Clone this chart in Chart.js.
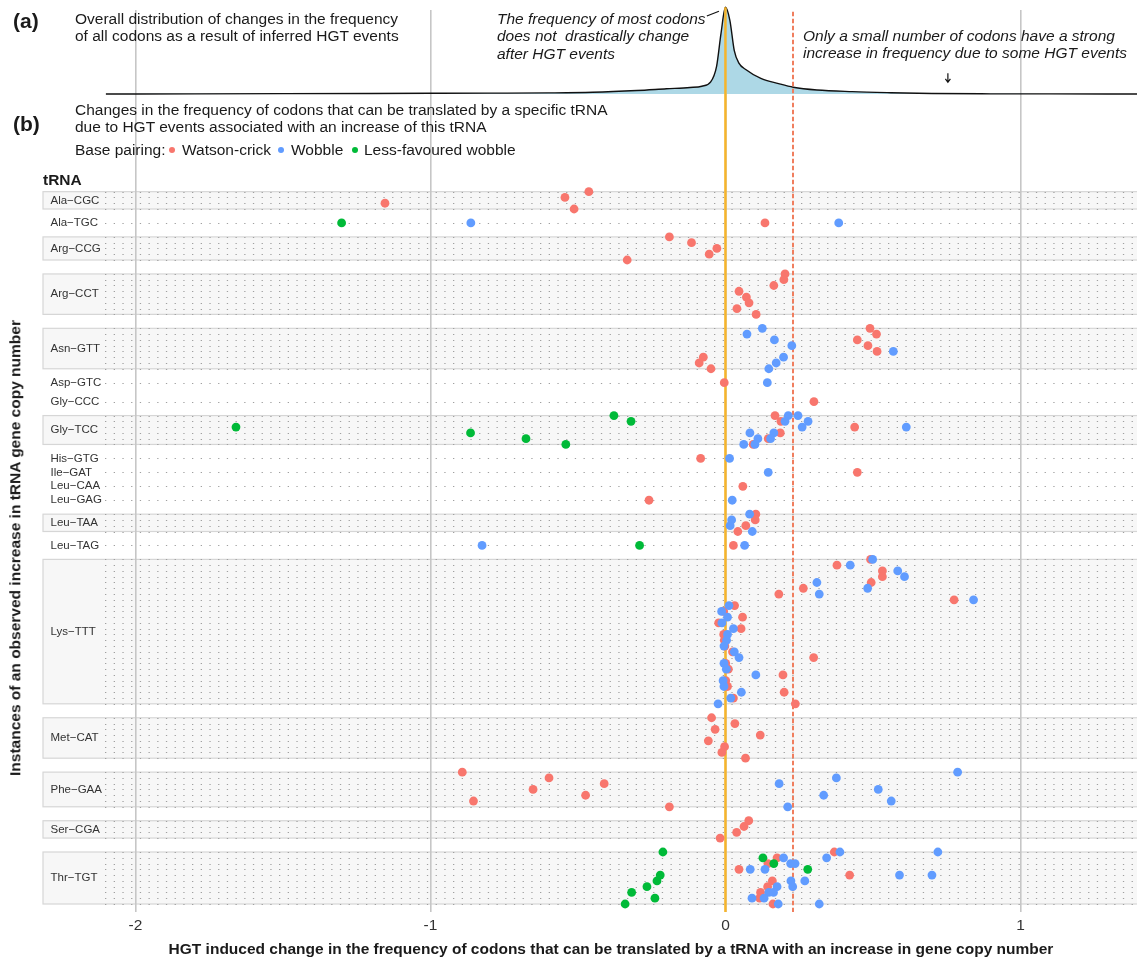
<!DOCTYPE html>
<html lang="en">
<head>
<meta charset="UTF-8">
<title>Codon frequency changes after HGT</title>
<script src="https://cdn.jsdelivr.net/npm/chart.js@4.4.1/dist/chart.umd.min.js"></script>
<style>
  body { margin: 0; background: #fff; font-family: "Liberation Sans", Arial, sans-serif; color: #1a1a1a; }
  #wrap { position: relative; width: 1137px; height: 961px; overflow: hidden; }
  #chart { position: absolute; left: 0; top: 0; }
  .txt { position: absolute; font-size: 15.5px; line-height: 17.4px; white-space: nowrap; }
  .it { font-style: italic; }
  .tag { position: absolute; font-weight: bold; font-size: 21px; line-height: 24px; }
  .bold { font-weight: bold; }
  .dot { position: absolute; width: 6px; height: 6px; border-radius: 50%; }
</style>
</head>
<body>
<div id="wrap">
  <canvas id="chart" width="1137" height="961"></canvas>

  <div class="tag" style="left:13px; top:9px">(a)</div>
  <div class="txt" style="left:75px; top:10px">Overall distribution of changes in the frequency<br>of all codons as a result of inferred HGT events</div>
  <div class="txt it" style="left:497px; top:10px">The frequency of most codons<br>does not&nbsp; drastically change<br>after HGT events</div>
  <div class="txt it" style="left:803px; top:27px">Only a small number of codons have a strong<br>increase in frequency due to some HGT events</div>

  <div class="tag" style="left:13px; top:112px">(b)</div>
  <div class="txt" style="left:75px; top:101px">Changes in the frequency of codons that can be translated by a specific tRNA<br>due to HGT events associated with an increase of this tRNA</div>
  <div class="txt" style="left:75px; top:141px">Base pairing:</div>
  <div class="dot" style="left:169px; top:147px; background:#F8766D"></div>
  <div class="txt" style="left:182px; top:141px">Watson-crick</div>
  <div class="dot" style="left:278px; top:147px; background:#619CFF"></div>
  <div class="txt" style="left:291px; top:141px">Wobble</div>
  <div class="dot" style="left:352px; top:147px; background:#00BA38"></div>
  <div class="txt" style="left:364px; top:141px">Less-favoured wobble</div>

  <div class="txt bold" style="left:43px; top:171px">tRNA</div>
  <div class="txt bold" style="left:14.5px; top:548px; transform: translate(-50%, -50%) rotate(-90deg);">Instances of an observed increase in tRNA gene copy number</div>
  <div class="txt bold" style="left:611px; top:950px; transform: translate(-50%, -55%);">HGT induced change in the frequency of codons that can be translated by a tRNA with an increase in gene copy number</div>
</div>

<script>
// tRNA groups (top to bottom) and how many instances (rows) each one has
const trnaNames = ['Ala-CGC', 'Ala-TGC', 'Arg-CCG', 'Arg-CCT', 'Asn-GTT', 'Asp-GTC', 'Gly-CCC', 'Gly-TCC',
                   'His-GTG', 'Ile-GAT', 'Leu-CAA', 'Leu-GAG', 'Leu-TAA', 'Leu-TAG', 'Lys-TTT', 'Met-CAT',
                   'Phe-GAA', 'Ser-CGA', 'Thr-TGT'];
const trnaInstances = [4, 1, 5, 8, 8, 1, 1, 6, 1, 1, 1, 1, 4, 1, 26, 8, 7, 4, 10];

// [tRNA, instance row, change in codon frequency]
const watsonCrick = [
  ['Ala-CGC', 0, -0.463], ['Ala-CGC', 1, -0.544], ['Ala-CGC', 2, -1.154], ['Ala-CGC', 3, -0.513],
  ['Ala-TGC', 0, 0.134],
  ['Arg-CCG', 0, -0.19], ['Arg-CCG', 1, -0.115], ['Arg-CCG', 2, -0.029], ['Arg-CCG', 3, -0.055], ['Arg-CCG', 4, -0.333],
  ['Arg-CCT', 0, 0.202], ['Arg-CCT', 1, 0.198], ['Arg-CCT', 2, 0.164], ['Arg-CCT', 3, 0.046],
  ['Arg-CCT', 4, 0.071], ['Arg-CCT', 5, 0.08], ['Arg-CCT', 6, 0.039], ['Arg-CCT', 7, 0.104],
  ['Asn-GTT', 0, 0.49], ['Asn-GTT', 1, 0.512], ['Asn-GTT', 2, 0.447], ['Asn-GTT', 3, 0.483],
  ['Asn-GTT', 4, 0.514], ['Asn-GTT', 5, -0.075], ['Asn-GTT', 6, -0.089], ['Asn-GTT', 7, -0.049],
  ['Asp-GTC', 0, -0.004],
  ['Gly-CCC', 0, 0.3],
  ['Gly-TCC', 0, 0.168], ['Gly-TCC', 1, 0.188], ['Gly-TCC', 2, 0.438], ['Gly-TCC', 3, 0.186], ['Gly-TCC', 4, 0.145], ['Gly-TCC', 5, 0.094],
  ['His-GTG', 0, -0.084],
  ['Ile-GAT', 0, 0.447],
  ['Leu-CAA', 0, 0.059],
  ['Leu-GAG', 0, -0.259],
  ['Leu-TAA', 0, 0.103], ['Leu-TAA', 1, 0.101], ['Leu-TAA', 2, 0.069], ['Leu-TAA', 3, 0.042],
  ['Leu-TAG', 0, 0.027],
  ['Lys-TTT', 0, 0.492], ['Lys-TTT', 1, 0.378], ['Lys-TTT', 2, 0.532], ['Lys-TTT', 3, 0.532], ['Lys-TTT', 4, 0.494],
  ['Lys-TTT', 5, 0.264], ['Lys-TTT', 6, 0.181], ['Lys-TTT', 7, 0.775], ['Lys-TTT', 8, 0.031], ['Lys-TTT', 9, -0.006],
  ['Lys-TTT', 10, 0.058], ['Lys-TTT', 11, -0.023], ['Lys-TTT', 12, 0.053], ['Lys-TTT', 13, -0.006], ['Lys-TTT', 14, -0.004],
  ['Lys-TTT', 15, -0.002], ['Lys-TTT', 16, 0.024], ['Lys-TTT', 17, 0.299], ['Lys-TTT', 18, 0.001], ['Lys-TTT', 19, 0.01],
  ['Lys-TTT', 20, 0.195], ['Lys-TTT', 21, 0.001], ['Lys-TTT', 22, 0.007], ['Lys-TTT', 23, 0.199], ['Lys-TTT', 24, 0.027],
  ['Lys-TTT', 25, 0.237],
  ['Met-CAT', 0, -0.047], ['Met-CAT', 1, 0.032], ['Met-CAT', 2, -0.035], ['Met-CAT', 3, 0.118],
  ['Met-CAT', 4, -0.058], ['Met-CAT', 5, -0.003], ['Met-CAT', 6, -0.012], ['Met-CAT', 7, 0.068],
  ['Phe-GAA', 0, -0.892], ['Phe-GAA', 1, -0.598], ['Phe-GAA', 2, -0.411], ['Phe-GAA', 3, -0.652],
  ['Phe-GAA', 4, -0.474], ['Phe-GAA', 5, -0.854], ['Phe-GAA', 6, -0.19],
  ['Ser-CGA', 0, 0.079], ['Ser-CGA', 1, 0.063], ['Ser-CGA', 2, 0.038], ['Ser-CGA', 3, -0.018],
  ['Thr-TGT', 0, 0.369], ['Thr-TGT', 1, 0.175], ['Thr-TGT', 2, 0.144], ['Thr-TGT', 3, 0.046], ['Thr-TGT', 4, 0.421],
  ['Thr-TGT', 5, 0.159], ['Thr-TGT', 6, 0.143], ['Thr-TGT', 7, 0.119], ['Thr-TGT', 8, 0.116], ['Thr-TGT', 9, 0.161]
];

const wobble = [
  ['Ala-TGC', 0, -0.863], ['Ala-TGC', 0, 0.384],
  ['Asn-GTT', 0, 0.125], ['Asn-GTT', 1, 0.073], ['Asn-GTT', 2, 0.166], ['Asn-GTT', 3, 0.225],
  ['Asn-GTT', 4, 0.569], ['Asn-GTT', 5, 0.197], ['Asn-GTT', 6, 0.172], ['Asn-GTT', 7, 0.147],
  ['Asp-GTC', 0, 0.142],
  ['Gly-TCC', 0, 0.213], ['Gly-TCC', 0, 0.246], ['Gly-TCC', 1, 0.202], ['Gly-TCC', 1, 0.28],
  ['Gly-TCC', 2, 0.613], ['Gly-TCC', 2, 0.26], ['Gly-TCC', 3, 0.083], ['Gly-TCC', 3, 0.164],
  ['Gly-TCC', 4, 0.11], ['Gly-TCC', 4, 0.153], ['Gly-TCC', 5, 0.062], ['Gly-TCC', 5, 0.1],
  ['His-GTG', 0, 0.014],
  ['Ile-GAT', 0, 0.145],
  ['Leu-GAG', 0, 0.023],
  ['Leu-TAA', 0, 0.082], ['Leu-TAA', 1, 0.021], ['Leu-TAA', 2, 0.016], ['Leu-TAA', 3, 0.091],
  ['Leu-TAG', 0, -0.825], ['Leu-TAG', 0, 0.065],
  ['Lys-TTT', 0, 0.499], ['Lys-TTT', 1, 0.423], ['Lys-TTT', 2, 0.584], ['Lys-TTT', 3, 0.607], ['Lys-TTT', 4, 0.31],
  ['Lys-TTT', 5, 0.482], ['Lys-TTT', 6, 0.318], ['Lys-TTT', 7, 0.841], ['Lys-TTT', 8, 0.012], ['Lys-TTT', 9, -0.013],
  ['Lys-TTT', 10, 0.007], ['Lys-TTT', 11, -0.012], ['Lys-TTT', 12, 0.027], ['Lys-TTT', 13, 0.007], ['Lys-TTT', 14, 0.004],
  ['Lys-TTT', 15, -0.005], ['Lys-TTT', 16, 0.03], ['Lys-TTT', 17, 0.046], ['Lys-TTT', 18, -0.005], ['Lys-TTT', 19, 0.003],
  ['Lys-TTT', 20, 0.103], ['Lys-TTT', 21, -0.008], ['Lys-TTT', 22, -0.005], ['Lys-TTT', 23, 0.054], ['Lys-TTT', 24, 0.018],
  ['Lys-TTT', 25, -0.025],
  ['Phe-GAA', 0, 0.787], ['Phe-GAA', 1, 0.376], ['Phe-GAA', 2, 0.182], ['Phe-GAA', 3, 0.518],
  ['Phe-GAA', 4, 0.333], ['Phe-GAA', 5, 0.562], ['Phe-GAA', 6, 0.211],
  ['Thr-TGT', 0, 0.388], ['Thr-TGT', 0, 0.72], ['Thr-TGT', 1, 0.197], ['Thr-TGT', 1, 0.343],
  ['Thr-TGT', 2, 0.221], ['Thr-TGT', 2, 0.236], ['Thr-TGT', 3, 0.084], ['Thr-TGT', 3, 0.134],
  ['Thr-TGT', 4, 0.59], ['Thr-TGT', 4, 0.7], ['Thr-TGT', 5, 0.222], ['Thr-TGT', 5, 0.269],
  ['Thr-TGT', 6, 0.175], ['Thr-TGT', 6, 0.228], ['Thr-TGT', 7, 0.147], ['Thr-TGT', 7, 0.163],
  ['Thr-TGT', 8, 0.09], ['Thr-TGT', 8, 0.131], ['Thr-TGT', 9, 0.179], ['Thr-TGT', 9, 0.318]
];

const lessFavoured = [
  ['Ala-TGC', 0, -1.301],
  ['Gly-TCC', 0, -0.378], ['Gly-TCC', 1, -0.32], ['Gly-TCC', 2, -1.659], ['Gly-TCC', 3, -0.864],
  ['Gly-TCC', 4, -0.676], ['Gly-TCC', 5, -0.541],
  ['Leu-TAG', 0, -0.291],
  ['Thr-TGT', 0, -0.212], ['Thr-TGT', 1, 0.127], ['Thr-TGT', 2, 0.164], ['Thr-TGT', 3, 0.279], ['Thr-TGT', 4, -0.221],
  ['Thr-TGT', 5, -0.232], ['Thr-TGT', 6, -0.266], ['Thr-TGT', 7, -0.318], ['Thr-TGT', 8, -0.239], ['Thr-TGT', 9, -0.34]
];

// panel (a): overall density of frequency changes (scaled so the peak is 1)
const densityX = [-2.1, -1.8, -1.5, -1.2, -1.0, -0.8, -0.6, -0.45, -0.3, -0.2, -0.12, -0.08, -0.05, -0.03, -0.015,
                  0, 0.015, 0.03, 0.045, 0.07, 0.12, 0.18, 0.23, 0.31, 0.43, 0.56, 0.7, 0.9, 1.1, 1.395];
const densityY = [0, 0.002, 0.004, 0.006, 0.008, 0.01, 0.013, 0.02, 0.04, 0.06, 0.075, 0.09, 0.14, 0.32, 0.7,
                  1.0, 0.85, 0.5, 0.36, 0.28, 0.18, 0.12, 0.078, 0.046, 0.027, 0.015, 0.006, 0.002, 0.001, 0];

const xTicks = [-2, -1, 0, 1];
const strongThreshold = 0.229;

const COLORS = { wc: '#F8766D', wobble: '#619CFF', less: '#00BA38' };
const FONT = '"Liberation Sans", Arial, sans-serif';

// each tRNA gets consecutive rows, groups separated by a gap
const GROUP_GAP = 2.414;
const EXTRA_GAP = { 'Gly-CCC': 0.86 };
const rowStart = {};
let pos = 0;
trnaNames.forEach((n, i) => {
  pos += EXTRA_GAP[n] || 0;
  rowStart[n] = pos;
  pos += trnaInstances[i] - 1 + GROUP_GAP;
});
const lastRow = pos - GROUP_GAP;

function toPoints(list) {
  return list.map(([t, r, v]) => ({ x: v, y: rowStart[t] + r }));
}

const panelsPlugin = {
  id: 'panels',
  beforeDraw(chart) {
    const { ctx, chartArea: a, scales: { y } } = chart;
    const right = chart.width;
    ctx.save();
    trnaNames.forEach((n, i) => {
      const k = trnaInstances[i];
      const y0 = y.getPixelForValue(rowStart[n]);
      const y1 = y.getPixelForValue(rowStart[n] + k - 1);
      if (k > 1) {
        ctx.fillStyle = '#F7F7F7';
        ctx.fillRect(43, y0, right - 43, y1 - y0);
        ctx.strokeStyle = '#D6D6D6';
        ctx.lineWidth = 1.2;
        ctx.setLineDash([]);
        ctx.strokeRect(43, y0, right - 43 + 4, y1 - y0);
      }
      ctx.strokeStyle = '#a0a0a0';
      ctx.lineWidth = 1;
      ctx.setLineDash([1.3, 7.4]);
      for (let r = 0; r < k; r++) {
        const yy = Math.round(y.getPixelForValue(rowStart[n] + r)) + 0.5;
        ctx.beginPath();
        ctx.moveTo(a.left, yy);
        ctx.lineTo(right, yy);
        ctx.stroke();
      }
      ctx.setLineDash([]);
      ctx.fillStyle = '#333';
      ctx.font = '11.5px ' + FONT;
      ctx.textBaseline = 'middle';
      ctx.textAlign = 'left';
      ctx.fillText(n.replace('-', '\u2212'), 50.5, (y0 + y1) / 2);
    });
    ctx.restore();
  },
  afterDatasetDraw(chart, args) {
    if (args.meta.type !== 'line') return;
    const { ctx, chartArea: a, scales: { x, yd } } = chart;
    ctx.save();
    const x0 = x.getPixelForValue(0);
    ctx.strokeStyle = '#F6B42B';
    ctx.lineWidth = 2.5;
    ctx.beginPath();
    ctx.moveTo(x0, yd.getPixelForValue(1));
    ctx.lineTo(x0, a.bottom);
    ctx.stroke();
    const xt = x.getPixelForValue(strongThreshold);
    ctx.strokeStyle = '#F07E5E';
    ctx.lineWidth = 2;
    ctx.setLineDash([4.5, 2.5]);
    ctx.beginPath();
    ctx.moveTo(xt, yd.getPixelForValue(0.95));
    ctx.lineTo(xt, a.bottom);
    ctx.stroke();
    ctx.restore();
  },
  afterDraw(chart) {
    const { ctx, scales: { x, yd } } = chart;
    ctx.save();
    ctx.strokeStyle = '#111';
    ctx.lineWidth = 1.2;
    // leader from the "most codons" note to the peak
    ctx.beginPath();
    ctx.moveTo(x.getPixelForValue(-0.063), yd.getPixelForValue(0.9));
    ctx.lineTo(x.getPixelForValue(-0.022), yd.getPixelForValue(0.955));
    ctx.stroke();
    // small arrow pointing at the long right tail
    const xa = x.getPixelForValue(0.754);
    const ya0 = yd.getPixelForValue(0.24), ya1 = yd.getPixelForValue(0.135);
    ctx.beginPath();
    ctx.moveTo(xa, ya0);
    ctx.lineTo(xa, ya1);
    ctx.moveTo(xa - 2.5, ya1 - 3.5);
    ctx.lineTo(xa, ya1);
    ctx.lineTo(xa + 2.5, ya1 - 3.5);
    ctx.stroke();
    ctx.restore();
  }
};

const pointStyle = { pointRadius: 4.4, pointHoverRadius: 4.4, borderWidth: 0, yAxisID: 'y' };

const ctx = document.getElementById('chart').getContext('2d');
const chart = new Chart(ctx, {
  type: 'scatter',
  data: {
    datasets: [
      Object.assign({ label: 'Less-favoured wobble', data: toPoints(lessFavoured), backgroundColor: COLORS.less, order: 1 }, pointStyle),
      Object.assign({ label: 'Wobble', data: toPoints(wobble), backgroundColor: COLORS.wobble, order: 2 }, pointStyle),
      Object.assign({ label: 'Watson-crick', data: toPoints(watsonCrick), backgroundColor: COLORS.wc, order: 3 }, pointStyle),
      {
        type: 'line',
        label: 'All codons',
        data: densityX.map((v, i) => ({ x: v, y: densityY[i] })),
        yAxisID: 'yd',
        borderColor: '#111',
        borderWidth: 1.4,
        backgroundColor: '#ADD8E6',
        fill: 'origin',
        pointRadius: 0,
        cubicInterpolationMode: 'monotone',
        clip: false,
        order: 10
      }
    ]
  },
  options: {
    responsive: false,
    animation: false,
    devicePixelRatio: 1,
    layout: { autoPadding: false, padding: { left: 105, right: 0, top: 10, bottom: 0 } },
    plugins: { legend: { display: false }, tooltip: { enabled: false } },
    scales: {
      x: {
        type: 'linear',
        min: -2.103,
        max: 1.395,
        afterBuildTicks: s => { s.ticks = xTicks.map(v => ({ value: v })); },
        afterFit: s => { s.height = 49; },
        grid: { color: '#c6c6c6', lineWidth: 1.6, drawTicks: false },
        border: { display: false },
        ticks: { color: '#333', font: { size: 15.5, family: FONT }, padding: 4 }
      },
      y: { type: 'linear', reverse: true, min: -31.45, max: lastRow + 1.385, display: false },
      yd: { type: 'linear', min: -9.435, max: 0.969, display: false }
    }
  },
  plugins: [panelsPlugin]
});
</script>
</body>
</html>
